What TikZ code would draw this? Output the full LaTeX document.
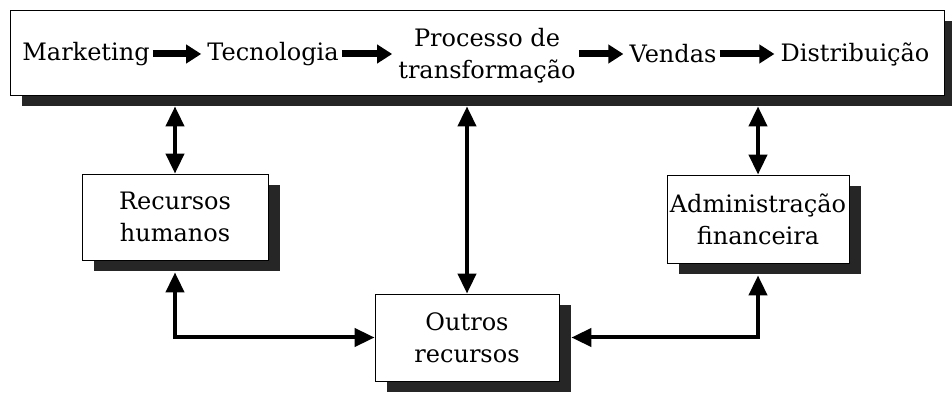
\documentclass[tikz,border=0pt]{standalone}
\usepackage{fontspec}
\setmainfont{DejaVu Serif}
\usetikzlibrary{arrows.meta,shadows,positioning}
\begin{document}
\begin{tikzpicture}[x=1pt,y=1pt,
  box/.style={draw=black,line width=0.8pt,fill=white,rectangle,inner sep=0pt,align=center,
    font=\fontsize{24}{32}\selectfont,
    drop shadow={shadow xshift=12pt,shadow yshift=-11pt,fill=black!85,opacity=1}},
  lbl/.style={inner sep=3pt,align=center,font=\fontsize{24}{32}\selectfont},
  flow/.style={line width=7pt,-{Triangle[length=15pt,width=18pt]},shorten >=3pt},
  dbl/.style={line width=4pt,{Triangle[length=20pt,width=18pt]}-{Triangle[length=20pt,width=18pt]}}
]
\useasboundingbox (0,0) rectangle (952,393);
% boxes
\node[box,minimum width=934pt,minimum height=85pt] (top) at (477,340.5) {};
\node[box,minimum width=186pt,minimum height=86pt] (rh) at (175,176) {Recursos\\humanos};
\node[box,minimum width=182pt,minimum height=88pt] (af) at (758,174) {Administração\\financeira};
\node[box,minimum width=184pt,minimum height=87pt] (or) at (467,55.5) {Outros\\recursos};
% labels in top box
\node[lbl] (mk) at (86,339) {Marketing};
\node[lbl] (tec) at (273,339) {Tecnologia};
\node[lbl] (proc) at (487,337) {Processo de\\transformação};
\node[lbl] (ven) at (673,339) {Vendas};
\node[lbl] (dis) at (855,339) {Distribuição};
\draw[flow] (mk.east) -- (mk.east -| tec.west);
\draw[flow] (tec.east) -- (tec.east -| proc.west);
\draw[flow] (proc.east |- ven.west) -- (ven.west);
\draw[flow] (ven.east) -- (ven.east -| dis.west);
% vertical connectors
\coordinate (tb) at ([yshift=-11pt]top.south);
\draw[dbl] (tb -| rh.north) -- (rh.north);
\draw[dbl] (tb -| or.north) -- (or.north);
\draw[dbl] (tb -| af.north) -- (af.north);
% bottom connectors
\coordinate (rhb) at ([yshift=-12pt]rh.south);
\coordinate (afb) at ([yshift=-12pt]af.south);
\coordinate (ore) at ([xshift=12pt]or.east);
\draw[dbl] (rhb) |- (or.west);
\draw[dbl] (afb) |- (ore);
\end{tikzpicture}
\end{document}
